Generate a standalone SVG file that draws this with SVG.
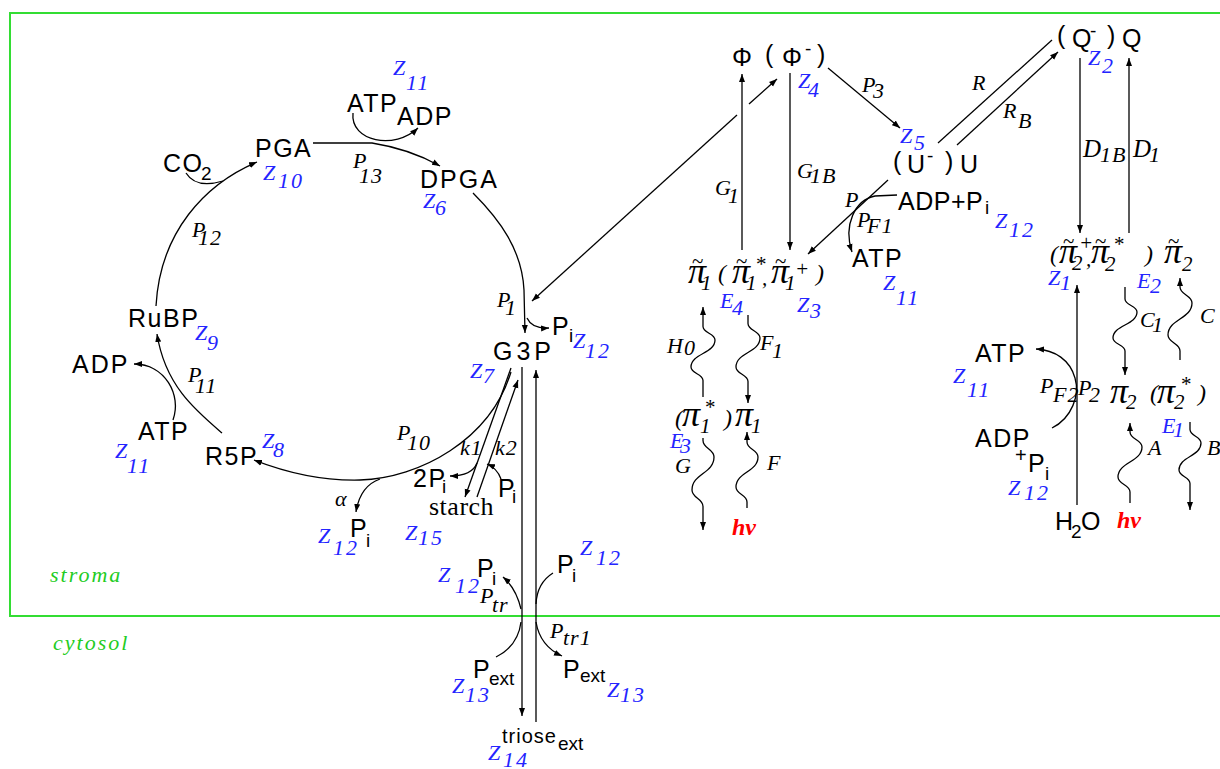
<svg xmlns="http://www.w3.org/2000/svg" width="1220" height="769" viewBox="0 0 1220 769">
<defs>
<marker id="a" markerWidth="10" markerHeight="8" refX="8" refY="4" orient="auto" markerUnits="userSpaceOnUse"><path d="M0,1 L8,4 L0,7 z" fill="#000"/></marker>
<style>
.s{font-family:"Liberation Sans",Arial,sans-serif;font-size:25px;letter-spacing:1.5px;fill:#000}
.ss{font-family:"Liberation Sans",Arial,sans-serif;font-size:19px;fill:#000}
.z{font-family:"Liberation Serif","Times New Roman",serif;font-style:italic;font-size:22px;fill:#2424ff;letter-spacing:2px}
.k{font-family:"Liberation Serif","Times New Roman",serif;font-style:italic;font-size:22px;fill:#000;letter-spacing:1px}
.gr{font-family:"Liberation Serif","Times New Roman",serif;font-style:italic;font-size:36px;fill:#000}
.grs{font-family:"Liberation Serif","Times New Roman",serif;font-style:italic;font-size:21px;fill:#000}
.tl{font-family:"Liberation Serif","Times New Roman",serif;font-size:21px;fill:#000}
.hv{font-family:"Liberation Serif","Times New Roman",serif;font-style:italic;font-weight:bold;font-size:24px;fill:#f00}
.g{font-family:"Liberation Serif","Times New Roman",serif;font-style:italic;font-size:22px;fill:#2c2;letter-spacing:2px}
.st{font-family:"Liberation Serif","Times New Roman",serif;font-size:26px;fill:#000;letter-spacing:0.5px}
.ln{fill:none;stroke:#000;stroke-width:1.3}
.ar{marker-end:url(#a)}
</style>
</defs>
<rect width="1220" height="769" fill="#fff"/>
<g id="compartments">
<path d="M1225,13 L10,13 L10,616 L1225,616" fill="none" stroke="#3d3" stroke-width="2"/>
<text class="g" x="50" y="582">stroma</text>
<text class="g" x="53" y="650">cytosol</text>
</g>
<g id="connectors">
<path class="ln ar" d="M156,306 C160,232 205,184 257,162"/>
<path class="ln" d="M186,173 Q196,189 223,181"/>
<path class="ln ar" d="M313,143 L372,143 Q410,149 440,166"/>
<path class="ln ar" d="M353,113 C350,142 395,150 418,128"/>
<path class="ln ar" d="M473,193 C500,220 522,250 524,290 L525,333"/>
<path class="ln ar" d="M527,318 Q532,329 549,328"/>
<path class="ln ar" d="M749,104 L777,79"/>
<path class="ln ar" d="M737,115 L532,301"/>
<path class="ln ar" d="M511,372 C490,440 420,478 360,480 C320,481 285,472 254,460"/>
<path class="ln ar" d="M380,479 Q360,486 356,512"/>
<path class="ln ar" d="M511,368 L465,497"/>
<path class="ln ar" d="M477,497 L518,380"/>
<path class="ln ar" d="M477,463 Q472,476 450,476"/>
<path class="ln ar" d="M501,479 Q497,468 487,464"/>
<path class="ln ar" d="M522,367 L522,716"/>
<path class="ln ar" d="M536,722 L536,370"/>
<path class="ln ar" d="M521,609 Q516,588 503,577"/>
<path class="ln" d="M496,657 Q518,646 521,622"/>
<path class="ln" d="M553,573 Q537,583 536,604"/>
<path class="ln ar" d="M536,622 Q540,646 562,656"/>
<path class="ln ar" d="M742,250 L742,74"/>
<path class="ln ar" d="M790,73 L790,250"/>
<path class="ln ar" d="M828,68 L900,128"/>
<path class="ln ar" d="M888,180 L808,254"/>
<path class="ln ar" d="M897,195 L875,196 C855,200 843,225 852,252"/>
<path class="ln" d="M938,143 L1052,40"/>
<path class="ln ar" d="M957,145 L1058,52"/>
<path class="ln ar" d="M1080,58 L1080,233"/>
<path class="ln ar" d="M1129,233 L1129,58"/>
<path class="ln ar" d="M1077,505 L1077,285"/>
<path class="ln ar" d="M1052,428 C1072,418 1080,395 1075,378 C1070,360 1055,350 1036,349"/>
<path class="ln ar" d="M222,433 C195,410 165,385 157,334"/>
<path class="ln ar" d="M173,420 C182,395 165,364 134,364"/>
<path class="ln ar" d="M703,397 V380.5 C703,373.75 691,373.75 691,367 C691,353.5 715,353.5 715,340 C715,333.25 703,333.25 703,326.5 V307"/>
<path class="ln ar" d="M748,315 V323.5 C748,330.75 760,330.75 760,338 C760,352.5 736,352.5 736,367 C736,374.25 748,374.25 748,381.5 V403"/>
<path class="ln ar" d="M703,438 V440.5 C703,448.75 714,448.75 714,457 C714,473.5 692,473.5 692,490 C692,498.25 703,498.25 703,506.5 V530"/>
<path class="ln ar" d="M747,508 V502 C747,494.5 736,494.5 736,487 C736,472 758,472 758,457 C758,449.5 747,449.5 747,442 V432"/>
<path class="ln ar" d="M1125,287 V299 C1125,305.5 1137,305.5 1137,312 C1137,325 1113,325 1113,338 C1113,344.5 1125,344.5 1125,351 V375"/>
<path class="ln ar" d="M1180,360 V351 C1180,343 1168,343 1168,335 C1168,319 1192,319 1192,303 C1192,295 1180,295 1180,287 V278"/>
<path class="ln ar" d="M1130,503 V492 C1130,484.5 1118,484.5 1118,477 C1118,462 1142,462 1142,447 C1142,439.5 1130,439.5 1130,432 V423"/>
<path class="ln ar" d="M1190,422 V429.5 C1190,436.25 1201,436.25 1201,443 C1201,456.5 1179,456.5 1179,470 C1179,476.75 1190,476.75 1190,483.5 V510"/>
</g>
<g id="labels-rates">
<text class="k"><tspan x="353" y="168">P</tspan><tspan x="359" y="183">13</tspan></text>
<text class="k"><tspan x="192" y="237">P</tspan><tspan x="198" y="245">12</tspan></text>
<text class="k"><tspan x="188" y="382">P</tspan><tspan x="195" y="393">11</tspan></text>
<text class="k"><tspan x="397" y="440">P</tspan><tspan x="407" y="450">10</tspan></text>
<text class="k" x="335" y="506">α</text>
<text class="k" x="460" y="455">k1</text>
<text class="k" x="495" y="455">k2</text>
<text class="k"><tspan x="497" y="307">P</tspan><tspan x="505" y="315">1</tspan></text>
<text class="k"><tspan x="480" y="603">P</tspan><tspan x="492" y="612">tr</tspan></text>
<text class="k"><tspan x="550" y="638">P</tspan><tspan x="563" y="645">tr1</tspan></text>
<text class="k"><tspan x="862" y="92">P</tspan><tspan x="873" y="98">3</tspan></text>
<text class="k"><tspan x="715" y="195">G</tspan><tspan x="728" y="203">1</tspan></text>
<text class="k"><tspan x="797" y="178">G</tspan><tspan x="810" y="183">1B</tspan></text>
<text class="k" x="845" y="207">P</text>
<text class="k"><tspan x="857" y="227">P</tspan><tspan x="867" y="233">F1</tspan></text>
<text class="k" x="972" y="90">R</text>
<text class="k"><tspan x="1003" y="118">R</tspan><tspan x="1018" y="128">B</tspan></text>
<text class="k"><tspan x="1083" y="157" style="font-size:25px">D</tspan><tspan x="1100" y="162">1B</tspan></text>
<text class="k"><tspan x="1133" y="157" style="font-size:25px">D</tspan><tspan x="1149" y="162">1</tspan></text>
<text class="k"><tspan x="667" y="353">H</tspan><tspan x="684" y="355">0</tspan></text>
<text class="k"><tspan x="760" y="350">F</tspan><tspan x="772" y="358">1</tspan></text>
<text class="k" x="675" y="473">G</text>
<text class="k" x="767" y="470">F</text>
<text class="k"><tspan x="1140" y="327">C</tspan><tspan x="1152" y="332">1</tspan></text>
<text class="k" x="1200" y="323">C</text>
<text class="k"><tspan x="1040" y="393">P</tspan><tspan x="1053" y="402">F2</tspan></text>
<text class="k"><tspan x="1078" y="395">P</tspan><tspan x="1089" y="402">2</tspan></text>
<text class="k" x="1148" y="455">A</text>
<text class="k" x="1207" y="455">B</text>
</g>
<g id="co2"><text class="s" x="163" y="172">CO</text><text class="ss" x="201" y="180">2</text></g>
<g id="pga"><text class="s" x="255" y="157">PGA</text><text class="z"><tspan x="263" y="180">Z</tspan><tspan x="278" y="188">10</tspan></text></g>
<g id="atp-adp-top"><text class="s" x="347" y="112">ATP</text><text class="s" x="397" y="125">ADP</text><text class="z"><tspan x="393" y="75">Z</tspan><tspan x="406" y="90">11</tspan></text></g>
<g id="dpga"><text class="s" x="420" y="188" style="letter-spacing:2px">DPGA</text><text class="z"><tspan x="423" y="208">Z</tspan><tspan x="435" y="215">6</tspan></text></g>
<g id="rubp"><text class="s" x="128" y="327">RuBP</text><text class="z"><tspan x="195" y="340">Z</tspan><tspan x="207" y="350">9</tspan></text></g>
<g id="adp-left"><text class="s" x="72" y="373" style="letter-spacing:2px">ADP</text></g>
<g id="atp-left"><text class="s" x="138" y="440">ATP</text><text class="z"><tspan x="115" y="458">Z</tspan><tspan x="127" y="473">11</tspan></text></g>
<g id="r5p"><text class="s" x="205" y="465">R5P</text><text class="z"><tspan x="262" y="448">Z</tspan><tspan x="273" y="457">8</tspan></text></g>
<g id="pi-alpha"><text class="s" x="350" y="537">P</text><text class="ss" x="366" y="547">i</text><text class="z"><tspan x="318" y="543">Z</tspan><tspan x="333" y="555">12</tspan></text></g>
<g id="starch"><text class="s" x="413" y="487">2P</text><text class="ss" x="442" y="493">i</text><text class="st" x="429" y="515">starch</text><text class="s" x="498" y="497">P</text><text class="ss" x="512" y="503">i</text><text class="z"><tspan x="405" y="540">Z</tspan><tspan x="418" y="545">15</tspan></text></g>
<g id="g3p"><text class="s" x="493" y="360" style="letter-spacing:4px">G3P</text><text class="z"><tspan x="470" y="378">Z</tspan><tspan x="483" y="383">7</tspan></text><text class="s" x="552" y="335">P</text><text class="ss" x="569" y="342">i</text><text class="z"><tspan x="573" y="348">Z</tspan><tspan x="585" y="358">12</tspan></text></g>
<g id="pi-stroma-left"><text class="s" x="477" y="577">P</text><text class="ss" x="492" y="585">i</text><text class="z"><tspan x="438" y="582">Z</tspan><tspan x="455" y="593">12</tspan></text></g>
<g id="pi-stroma-right"><text class="s" x="557" y="573">P</text><text class="ss" x="572" y="582">i</text><text class="z"><tspan x="580" y="555">Z</tspan><tspan x="596" y="565">12</tspan></text></g>
<g id="pext-left"><text class="s" x="473" y="678">P</text><text class="ss" x="489" y="685">ext</text><text class="z"><tspan x="452" y="693">Z</tspan><tspan x="465" y="702">13</tspan></text></g>
<g id="pext-right"><text class="s" x="563" y="678">P</text><text class="ss" x="580" y="682">ext</text><text class="z"><tspan x="607" y="697">Z</tspan><tspan x="620" y="702">13</tspan></text></g>
<g id="triose"><text class="ss" x="502" y="743" style="font-size:20px;letter-spacing:1px">triose</text><text class="ss" x="558" y="750">ext</text><text class="z"><tspan x="488" y="760">Z</tspan><tspan x="503" y="767">14</tspan></text></g>
<g id="phi"><text class="s" x="732" y="66">Φ</text><text class="s" x="765" y="63">(</text><text class="s" x="782" y="66">Φ</text><text class="ss" x="805" y="55">-</text><text class="s" x="817" y="63">)</text><text class="z"><tspan x="798" y="88">Z</tspan><tspan x="808" y="97">4</tspan></text></g>
<g id="u"><text class="z"><tspan x="900" y="143">Z</tspan><tspan x="914" y="150">5</tspan></text><text class="s" x="893" y="170">(</text><text class="s" x="907" y="173">U</text><text class="ss" x="927" y="162">-</text><text class="s" x="945" y="170">)</text><text class="s" x="960" y="173">U</text></g>
<g id="adp-pi-mid"><text class="s" x="898" y="210" style="letter-spacing:0.5px">ADP+P</text><text class="ss" x="985" y="214">i</text><text class="z"><tspan x="995" y="228">Z</tspan><tspan x="1009" y="237">12</tspan></text></g>
<g id="atp-mid"><text class="s" x="852" y="267">ATP</text><text class="z"><tspan x="883" y="290">Z</tspan><tspan x="896" y="305">11</tspan></text></g>
<g id="pi1-tilde">
<text class="gr" x="688" y="283">π</text><text class="tl" x="692" y="268">~</text><text class="grs" x="701" y="290">1</text>
<text class="grs" x="718" y="281" style="font-size:24px">(</text>
<text class="gr" x="732" y="283">π</text><text class="tl" x="736" y="268">~</text><text class="grs" x="755" y="271">*</text><text class="grs" x="746" y="290">1</text>
<text class="grs" x="762" y="285">,</text>
<text class="gr" x="771" y="283">π</text><text class="tl" x="775" y="268">~</text><text class="grs" x="795" y="276">+</text><text class="grs" x="785" y="290">1</text>
<text class="grs" x="816" y="281" style="font-size:24px">)</text>
<text class="z"><tspan x="720" y="308">E</tspan><tspan x="732" y="315">4</tspan></text>
<text class="z"><tspan x="797" y="312">Z</tspan><tspan x="810" y="318">3</tspan></text>
</g>
<g id="pi1">
<text class="grs" x="675" y="426" style="font-size:24px">(</text>
<text class="gr" x="682" y="426">π</text><text class="grs" x="704" y="414">*</text><text class="grs" x="700" y="433">1</text>
<text class="grs" x="724" y="426" style="font-size:24px">)</text>
<text class="gr" x="735" y="426">π</text><text class="grs" x="751" y="433">1</text>
<text class="z"><tspan x="670" y="448">E</tspan><tspan x="680" y="453">3</tspan></text>
<text class="hv" x="732" y="535">hν</text>
</g>
<g id="q"><text class="s" x="1057" y="44">(</text><text class="s" x="1072" y="47">Q</text><text class="ss" x="1090" y="37">-</text><text class="s" x="1107" y="44">)</text><text class="s" x="1122" y="47">Q</text><text class="z"><tspan x="1088" y="65">Z</tspan><tspan x="1102" y="73">2</tspan></text></g>
<g id="pi2-tilde">
<text class="grs" x="1050" y="262" style="font-size:24px">(</text>
<text class="gr" x="1059" y="263">π</text><text class="tl" x="1063" y="248">~</text><text class="grs" x="1079" y="250">+</text><text class="grs" x="1072" y="270">2</text>
<text class="grs" x="1086" y="266">,</text>
<text class="gr" x="1091" y="263">π</text><text class="tl" x="1095" y="248">~</text><text class="grs" x="1113" y="251">*</text><text class="grs" x="1105" y="271">2</text>
<text class="grs" x="1145" y="262" style="font-size:24px">)</text>
<text class="gr" x="1164" y="263">π</text><text class="tl" x="1168" y="248">~</text><text class="grs" x="1182" y="271">2</text>
<text class="z"><tspan x="1048" y="285">Z</tspan><tspan x="1060" y="290">1</tspan></text>
<text class="z"><tspan x="1137" y="288">E</tspan><tspan x="1150" y="293">2</tspan></text>
</g>
<g id="pi2">
<text class="gr" x="1110" y="403">π</text><text class="grs" x="1126" y="409">2</text>
<text class="grs" x="1150" y="401" style="font-size:24px">(</text>
<text class="gr" x="1157" y="403">π</text><text class="grs" x="1180" y="391">*</text><text class="grs" x="1174" y="409">2</text>
<text class="grs" x="1198" y="401" style="font-size:24px">)</text>
<text class="z"><tspan x="1162" y="433">E</tspan><tspan x="1173" y="437">1</tspan></text>
<text class="hv" x="1117" y="528">hν</text>
</g>
<g id="atp-right"><text class="s" x="975" y="362">ATP</text><text class="z"><tspan x="953" y="383">Z</tspan><tspan x="967" y="397">11</tspan></text></g>
<g id="adp-right"><text class="s" x="975" y="447">ADP</text><text class="ss" x="1015" y="462" style="font-size:20px">+</text><text class="s" x="1028" y="472">P</text><text class="ss" x="1045" y="480">i</text><text class="z"><tspan x="1008" y="495">Z</tspan><tspan x="1024" y="500">12</tspan></text></g>
<g id="h2o"><text class="s" x="1055" y="530">H</text><text class="ss" x="1071" y="538">2</text><text class="s" x="1081" y="530">O</text></g>
</svg>
